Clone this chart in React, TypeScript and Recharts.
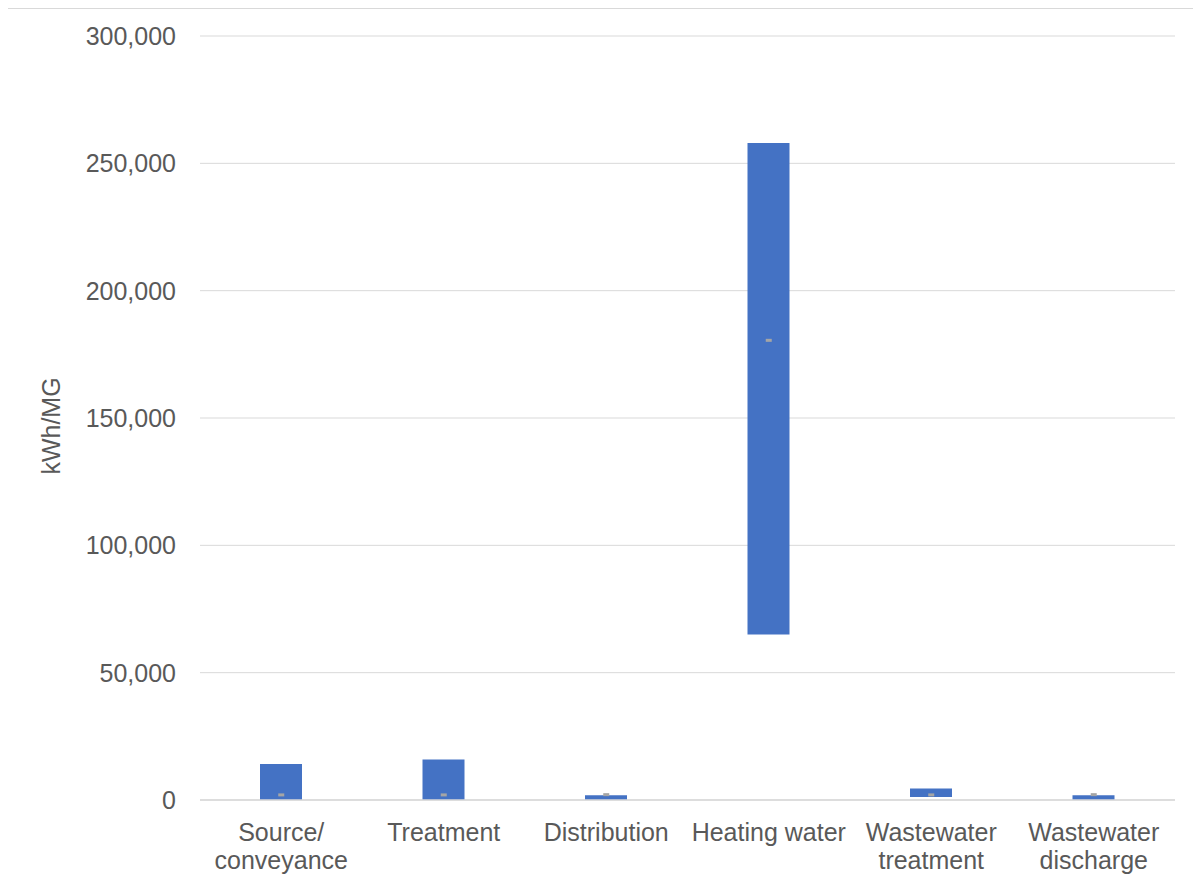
import React from "react"
import { ComposedChart, Bar, Line, XAxis, YAxis, CartesianGrid } from "recharts"

const categories = [
  "Source/\nconveyance",
  "Treatment",
  "Distribution",
  "Heating water",
  "Wastewater\ntreatment",
  "Wastewater\ndischarge",
]
const lowValues = [0, 0, 0, 65000, 1200, 0]
const highValues = [14100, 15900, 1900, 258000, 4500, 1900]
const midValues = [2000, 2000, 2100, 180500, 2000, 2100]
const yTicks = [0, 50000, 100000, 150000, 200000, 250000, 300000]

const data = categories.map((name, i) => ({
  name,
  range: [lowValues[i], highValues[i]],
  mid: midValues[i],
}))

const FONT = "'Liberation Sans', Arial, sans-serif"
const TEXT = "#595959"

function CategoryTick({ x, y, payload }: any) {
  const lines = String(payload.value).split("\n")
  return (
    <text x={x} y={y + 33} textAnchor="middle" fill={TEXT} fontSize={25} fontFamily={FONT}>
      {lines.map((l, i) => (
        <tspan key={i} x={x} dy={i === 0 ? 0 : 28}>
          {l}
        </tspan>
      ))}
    </text>
  )
}

function MidMarker({ cx, cy }: any) {
  if (cx == null || cy == null) return null
  return <rect x={cx - 3} y={cy - 1.5} width={6} height={3} fill="#a5a5a5" />
}

export default function App() {
  return (
    <div
      style={{
        marginLeft: -4,
        marginTop: -1,
        width: 1200,
        height: 890,
        borderLeft: "2px solid #d9d9d9",
        borderTop: "2px solid #d9d9d9",
        boxSizing: "border-box",
        background: "#fff",
      }}
    >
      <ComposedChart
        width={1198}
        height={888}
        data={data}
        margin={{ top: 27, right: 29, bottom: 27, left: 0 }}
      >
        <CartesianGrid vertical={false} stroke="#d9d9d9" strokeWidth={1} />
        <XAxis
          dataKey="name"
          interval={0}
          tickLine={false}
          axisLine={{ stroke: "#d9d9d9", strokeWidth: 1.5 }}
          height={70}
          tick={<CategoryTick />}
        />
        <YAxis
          domain={[0, 300000]}
          ticks={yTicks}
          width={194}
          tickLine={false}
          axisLine={false}
          tickSize={0}
          tickMargin={24}
          tickFormatter={(v: number) => v.toLocaleString("en-US")}
          tick={{ fill: TEXT, fontSize: 25, fontFamily: FONT }}
          label={() => (
            <text
              x={45}
              y={417}
              transform="rotate(-90, 45, 417)"
              textAnchor="middle"
              dominantBaseline="central"
              fill={TEXT}
              fontSize={25}
              fontFamily={FONT}
            >
              kWh/MG
            </text>
          )}
        />
        <Bar dataKey="range" fill="#4472c4" barSize={42} isAnimationActive={false} />
        <Line
          dataKey="mid"
          stroke="none"
          dot={<MidMarker />}
          activeDot={false}
          isAnimationActive={false}
        />
      </ComposedChart>
    </div>
  )
}
